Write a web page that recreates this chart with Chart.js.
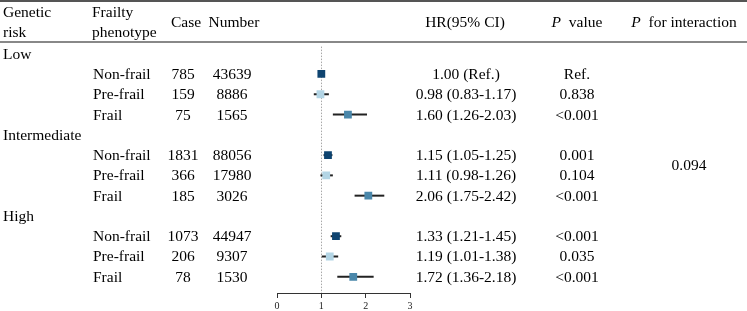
<!DOCTYPE html>
<html>
<head>
<meta charset="utf-8">
<script src="https://cdn.jsdelivr.net/npm/chart.js@4.4.1/dist/chart.umd.min.js"></script>
<style>
  body { margin: 0; background: #fff; }
  #wrap { position: relative; width: 747px; height: 311px; font-family: "Liberation Serif", "Times New Roman", serif; font-size: 15.5px; color: #000; }
  #wrap canvas { position: absolute; left: 0; top: 0; }
  .t { position: absolute; white-space: nowrap; line-height: 1; transform: translateY(-50%); }
  .c { transform: translate(-50%, -50%); }
  .rule { position: absolute; left: 0; width: 747px; }
</style>
</head>
<body>
<div id="wrap">
  <canvas id="forest" width="747" height="311"></canvas>
  <div class="rule" style="top:0;height:2px;background:#555"></div>
  <div class="rule" style="top:41px;height:1.5px;background:#888"></div>
</div>
<script>
// table data
const riskGroups = ['Low', 'Intermediate', 'High'];
const phenotypes = ['Non-frail', 'Pre-frail', 'Frail'];
const cases = [785, 159, 75, 1831, 366, 185, 1073, 206, 78];
const numbers = [43639, 8886, 1565, 88056, 17980, 3026, 44947, 9307, 1530];
const hr = [1.00, 0.98, 1.60, 1.15, 1.11, 2.06, 1.33, 1.19, 1.72];
const ciLow = [null, 0.83, 1.26, 1.05, 0.98, 1.75, 1.21, 1.01, 1.36];
const ciHigh = [null, 1.17, 2.03, 1.25, 1.26, 2.42, 1.45, 1.38, 2.18];
const hrLabels = ['1.00 (Ref.)', '0.98 (0.83-1.17)', '1.60 (1.26-2.03)',
  '1.15 (1.05-1.25)', '1.11 (0.98-1.26)', '2.06 (1.75-2.42)',
  '1.33 (1.21-1.45)', '1.19 (1.01-1.38)', '1.72 (1.36-2.18)'];
const pValues = ['Ref.', '0.838', '<0.001', '0.001', '0.104', '<0.001', '<0.001', '0.035', '<0.001'];
const pInteraction = '0.094';
const xTicks = [0, 1, 2, 3];
const phenoColors = ['#0e4470', '#b3d5e5', '#4a87aa'];

// row index on the y scale: each group has a header row then 3 phenotype rows
const rowOf = i => Math.floor(i / 3) * 4 + 1 + (i % 3);

const points = hr.map((v, i) => ({ x: v, y: rowOf(i) }));

const refLine = {
  id: 'refLine',
  beforeDatasetsDraw(chart) {
    const { ctx, chartArea, scales } = chart;
    const x = Math.round(scales.x.getPixelForValue(1)) + 0.5;
    ctx.save();
    ctx.strokeStyle = '#a8a8a8';
    ctx.lineWidth = 1;
    ctx.setLineDash([1.5, 1.5]);
    ctx.beginPath();
    ctx.moveTo(x, chartArea.top);
    ctx.lineTo(x, chartArea.bottom);
    ctx.stroke();
    ctx.restore();
  }
};

const whiskers = {
  id: 'whiskers',
  beforeDatasetsDraw(chart) {
    const { ctx, scales } = chart;
    ctx.save();
    ctx.strokeStyle = '#222';
    ctx.lineWidth = 2;
    hr.forEach((v, i) => {
      if (ciLow[i] == null) return;
      const y = scales.y.getPixelForValue(rowOf(i));
      ctx.beginPath();
      ctx.moveTo(scales.x.getPixelForValue(ciLow[i]), y);
      ctx.lineTo(scales.x.getPixelForValue(ciHigh[i]), y);
      ctx.stroke();
    });
    ctx.restore();
  }
};

const chart = new Chart(document.getElementById('forest'), {
  type: 'scatter',
  data: {
    datasets: [{
      data: points,
      pointStyle: 'rect',
      pointRadius: 5.5,
      pointHoverRadius: 5.5,
      borderWidth: 0,
      backgroundColor: hr.map((v, i) => phenoColors[i % 3])
    }]
  },
  options: {
    responsive: false,
    animation: false,
    events: [],
    layout: { padding: { left: 277, right: 337, top: 46.6, bottom: 0 } },
    plugins: { legend: { display: false }, tooltip: { enabled: false } },
    scales: {
      x: {
        type: 'linear',
        min: 0,
        max: 3,
        afterBuildTicks: s => { s.ticks = xTicks.map(v => ({ value: v })); },
        afterFit: s => { s.height = 18; },
        grid: { drawOnChartArea: false, tickLength: 5, color: '#333' },
        border: { color: '#333', width: 1 },
        ticks: { font: { family: 'Liberation Serif', size: 10 }, color: '#222', padding: 2 }
      },
      y: { type: 'linear', reverse: true, min: -0.35, max: 11.8, display: false }
    }
  },
  plugins: [refLine, whiskers]
});

// table text, placed on the chart's own row positions
const wrap = document.getElementById('wrap');
function addText(html, x, y, center) {
  const d = document.createElement('div');
  d.className = center ? 't c' : 't';
  d.style.left = x + 'px';
  d.style.top = y + 'px';
  d.innerHTML = html;
  wrap.appendChild(d);
}

addText('Genetic', 3, 12);
addText('risk', 3, 32);
addText('Frailty', 92, 12);
addText('phenotype', 92, 32);
addText('Case', 186, 22, true);
addText('Number', 234, 22, true);
addText('HR(95% CI)', 465, 22, true);
addText('<i>P</i>&nbsp; value', 577, 22, true);
addText('<i>P</i>&nbsp; for interaction', 684, 22, true);

const yPix = r => chart.scales.y.getPixelForValue(r);
riskGroups.forEach((g, k) => addText(g, 3, yPix(k * 4)));
hr.forEach((v, i) => {
  const y = yPix(rowOf(i));
  addText(phenotypes[i % 3], 93, y);
  addText(String(cases[i]), 183, y, true);
  addText(String(numbers[i]), 232, y, true);
  addText(hrLabels[i], 466, y, true);
  addText(pValues[i].replace('<', '&lt;'), 577, y, true);
});
addText(pInteraction, 689, yPix(5.5), true);
</script>
</body>
</html>
